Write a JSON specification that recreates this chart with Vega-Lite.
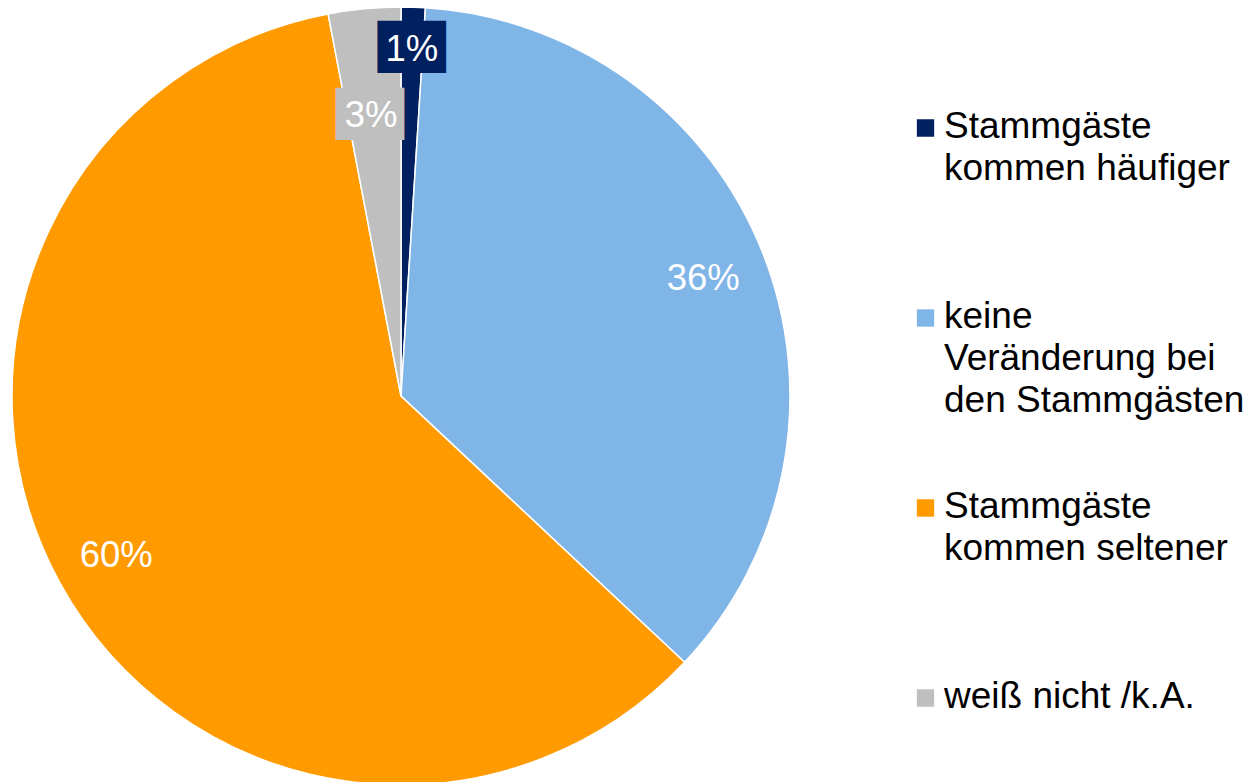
{
  "$schema": "https://vega.github.io/schema/vega-lite/v6.json",
  "width": 802,
  "height": 792,
  "padding": 0,
  "background": "white",
  "config": {"view": {"stroke": null}},
  "data": {
    "values": [
      {"cat": "Stammgäste kommen häufiger", "idx": 1, "value": 1, "label": "1%"},
      {"cat": "keine Veränderung bei den Stammgästen", "idx": 2, "value": 36, "label": "36%"},
      {"cat": "Stammgäste kommen seltener", "idx": 3, "value": 60, "label": "60%"},
      {"cat": "weiß nicht /k.A.", "idx": 4, "value": 3, "label": "3%"}
    ]
  },
  "encoding": {
    "theta": {"field": "value", "type": "quantitative", "stack": true},
    "order": {"field": "idx", "type": "quantitative"},
    "color": {
      "field": "cat",
      "type": "nominal",
      "sort": ["Stammgäste kommen häufiger", "keine Veränderung bei den Stammgästen", "Stammgäste kommen seltener", "weiß nicht /k.A."],
      "scale": {
        "domain": ["Stammgäste kommen häufiger", "keine Veränderung bei den Stammgästen", "Stammgäste kommen seltener", "weiß nicht /k.A."],
        "range": ["#002060", "#80B5E7", "#FF9A00", "#BFBFBF"]
      },
      "legend": {
        "orient": "none",
        "legendX": 907,
        "legendY": 39,
        "padding": 0,
        "title": null,
        "symbolType": "square",
        "symbolSize": 300,
        "symbolStrokeWidth": 0,
        "labelFont": "Liberation Sans",
        "labelFontSize": 37,
        "labelColor": "#000000",
        "labelLimit": 0,
        "labelOffset": 0,
        "labelBaseline": "top",
        "clipHeight": 178,
        "gridAlign": "all",
        "rowPadding": 0,
        "labelExpr": "datum.label == 'keine Veränderung bei den Stammgästen' ? ['keine', 'Veränderung bei', 'den Stammgästen'] : datum.label == 'weiß nicht /k.A.' ? datum.label : [slice(datum.label, 0, 10), slice(datum.label, 11)]",
        "encode": {"labels": {"update": {"lineHeight": {"value": 42}, "dy": {"value": -19}}}}
      }
    }
  },
  "layer": [
    {
      "mark": {"type": "arc", "outerRadius": 389, "stroke": "white", "strokeWidth": 1.5}
    },
    {
      "mark": {"type": "text", "radius": 348, "font": "DejaVu Sans", "fontSize": 44, "baseline": "middle", "align": "center", "dy": 1},
      "encoding": {
        "text": {"condition": {"test": "datum.idx == 1", "value": "██"}, "value": ""}
      }
    },
    {
      "mark": {"type": "text", "radius": 285, "font": "DejaVu Sans", "fontSize": 44, "baseline": "middle", "align": "center", "dx": -4, "dy": 4},
      "encoding": {
        "text": {"condition": {"test": "datum.idx == 4", "value": "██"}, "value": ""}
      }
    },
    {
      "mark": {"type": "text", "radius": 325, "font": "Liberation Sans", "fontSize": 36.5, "baseline": "middle", "align": "center", "dy": 3},
      "encoding": {
        "text": {"condition": {"test": "datum.idx == 2 || datum.idx == 3", "field": "label"}, "value": ""},
        "color": {"value": "white"}
      }
    },
    {
      "mark": {"type": "text", "radius": 348, "font": "Liberation Sans", "fontSize": 36.5, "baseline": "middle", "align": "center", "dy": 2},
      "encoding": {
        "text": {"condition": {"test": "datum.idx == 1", "field": "label"}, "value": ""},
        "color": {"value": "white"}
      }
    },
    {
      "mark": {"type": "text", "radius": 285, "font": "Liberation Sans", "fontSize": 36.5, "baseline": "middle", "align": "center", "dx": -3, "dy": 4},
      "encoding": {
        "text": {"condition": {"test": "datum.idx == 4", "field": "label"}, "value": ""},
        "color": {"value": "white"}
      }
    }
  ]
}
